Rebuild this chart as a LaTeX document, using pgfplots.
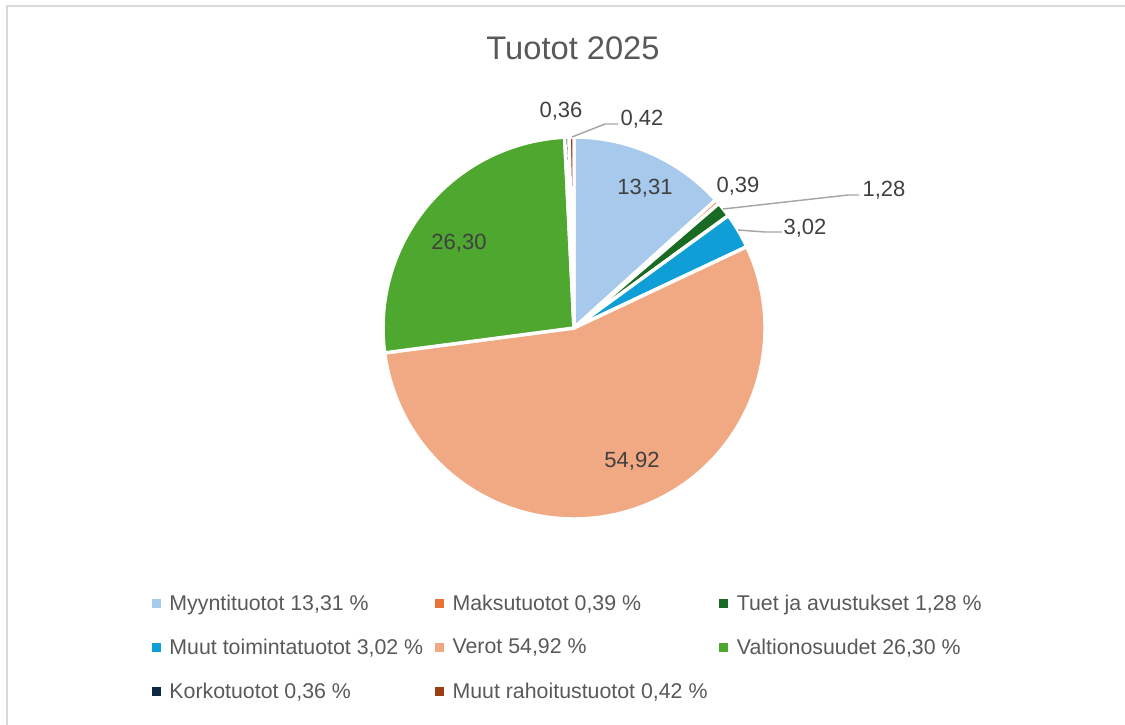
\documentclass[border=0pt]{standalone}
\usepackage{pgfplots}
\pgfplotsset{compat=1.18}
\usepackage{fontspec}
\setmainfont{Liberation Sans}
\definecolor{cMyy}{HTML}{A7CAEC}
\definecolor{cMak}{HTML}{E97132}
\definecolor{cTue}{HTML}{196B24}
\definecolor{cMtt}{HTML}{0F9ED5}
\definecolor{cVer}{HTML}{F1A983}
\definecolor{cVal}{HTML}{4EA72E}
\definecolor{cKor}{HTML}{0E2841}
\definecolor{cMra}{HTML}{9E3D12}
\definecolor{txt}{HTML}{595959}
\definecolor{lbl}{HTML}{404040}
\definecolor{lead}{HTML}{A6A6A6}
\definecolor{framegray}{HTML}{D9D9D9}

\begin{document}
\begin{tikzpicture}
\begin{axis}[
  x=0.75pt, y=0.75pt, xmin=0, xmax=1125, ymin=0, ymax=725, y dir=reverse,
  hide axis, clip=false,
  legend columns=3, legend cell align=left,
  legend style={at={(axis cs:568,647.5)}, anchor=center, draw=none, fill=none,
    font=\fontsize{16}{18}\selectfont, text=txt, row sep=15.9pt,
    /tikz/every even column/.append style={column sep=6.75pt}},
  legend image code/.code={\fill[#1, draw=none] (0pt,-3.4pt) rectangle (6.75pt,3.4pt);
    \path[draw=none, fill=none] (0pt,0pt) -- (11.25pt,0pt);},
]
\coordinate (BL) at (axis cs:0,725);
\coordinate (TR) at (axis cs:1125,0);
% legend entries (row-major, as in the chart)
\addlegendimage{fill=cMyy}\addlegendentry{Myyntituotot 13,31 \%}
\addlegendimage{fill=cMak}\addlegendentry{Maksutuotot 0,39 \%}
\addlegendimage{fill=cTue}\addlegendentry{Tuet ja avustukset 1,28 \%}
\addlegendimage{fill=cMtt}\addlegendentry{Muut toimintatuotot 3,02 \%}
\addlegendimage{fill=cVer}\addlegendentry{Verot 54,92 \%}
\addlegendimage{fill=cVal}\addlegendentry{Valtionosuudet 26,30 \%}
\addlegendimage{fill=cKor}\addlegendentry{Korkotuotot 0,36 \%}
\addlegendimage{fill=cMra}\addlegendentry{Muut rahoitustuotot 0,42 \%}

% pie slices, clockwise from 12 o'clock
\pgfplotsextra{
  \gdef\cum{0}
  \foreach \v/\c in {13.31/cMyy, 0.39/cMak, 1.28/cTue, 3.02/cMtt,
                     54.92/cVer, 26.30/cVal, 0.36/cKor, 0.42/cMra}{
    \pgfmathsetmacro\aa{90-3.6*\cum}
    \pgfmathsetmacro\bb{90-3.6*(\cum+\v)}
    \fill[fill=\c, draw=white, line width=2.6pt, line join=round]
      (axis cs:574,328) -- ++(\aa:143.25pt)
      arc[start angle=\aa, end angle=\bb, radius=143.25pt] -- cycle;
    \pgfmathsetmacro\nc{\cum+\v}
    \xdef\cum{\nc}
  }
}

% frame
\draw[framegray, line width=1.5pt] (axis cs:7,725) -- (axis cs:7,6) -- (axis cs:1125,6);

% title
\node[font=\fontsize{24.5}{28}\selectfont, text=txt] at (axis cs:573,48) {Tuotot 2025};

% leader lines
\draw[lead, line width=1.1pt] (axis cs:572,137) -- (axis cs:605,124) -- (axis cs:618,124);
\draw[lead, line width=1.1pt] (axis cs:723,209) -- (axis cs:848,195) -- (axis cs:859,195);
\draw[lead, line width=1.1pt] (axis cs:738,230) -- (axis cs:765,232) -- (axis cs:782,232);

% data labels
\begin{scope}[every node/.style={font=\fontsize{16.5}{19}\selectfont, text=lbl}]
\node at (axis cs:645,188) {13,31};
\node at (axis cs:738,186) {0,39};
\node at (axis cs:884,190) {1,28};
\node at (axis cs:805,228) {3,02};
\node at (axis cs:632,461) {54,92};
\node at (axis cs:459,243) {26,30};
\node at (axis cs:561,111) {0,36};
\node at (axis cs:642,119) {0,42};
\end{scope}
\end{axis}
\pgfresetboundingbox
\useasboundingbox (BL) rectangle (TR);
\end{tikzpicture}
\end{document}
